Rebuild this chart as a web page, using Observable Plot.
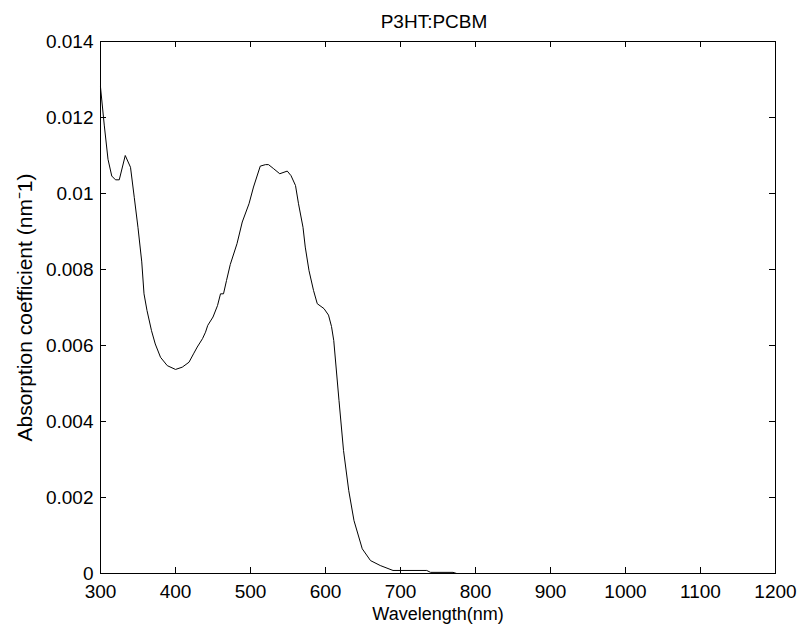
<!DOCTYPE html>
<html><head><meta charset="utf-8">
<script src="https://cdn.jsdelivr.net/npm/d3@7"></script>
<script src="https://cdn.jsdelivr.net/npm/@observablehq/plot@0.6"></script>
<style>body{margin:0;background:#fff}</style>
</head><body><div id="chart"></div>
<script>
const wavelength = [300,305,310,315,320,325,333,340,345,350,355,358,362,368,373,380,389,400,409,418,424,429,436,440,443,450,456,460,464,468,473,482,489,498,504,513,520,524,531,539,549,554,560,564,570,573,578,584,589,598,604,608,611,618,624,631,638,649,660,673,690,700,735,740,770,775,1200];
const absorption = [0.0128,0.0118,0.0109,0.01046,0.01036,0.01036,0.0110,0.01069,0.0099,0.0091,0.0082,0.00736,0.00692,0.00639,0.00604,0.00569,0.00547,0.00537,0.00543,0.00556,0.00578,0.00596,0.00618,0.00635,0.00653,0.00675,0.00705,0.00736,0.00736,0.00771,0.00813,0.00868,0.00925,0.00973,0.01017,0.01072,0.01076,0.01076,0.01065,0.01052,0.01059,0.01047,0.01021,0.00973,0.00911,0.00859,0.00797,0.00745,0.0071,0.00697,0.0068,0.0065,0.00613,0.00455,0.00324,0.00218,0.00139,0.00065,0.00034,0.00021,0.00008,0.00008,0.00008,0.00003,0.00003,0,0];
const xTicks = [300,400,500,600,700,800,900,1000,1100,1200];
const yTicks = [0,0.002,0.004,0.006,0.008,0.01,0.012,0.014];
const yTickLabels = ["0","0.002","0.004","0.006","0.008","0.01","0.012","0.014"];
const titleText = "P3HT:PCBM";
const xLabel = "Wavelength(nm)";
const yLabel = "Absorption coefficient (nm\u207B1)";

const data = wavelength.map((w, i) => ({w, a: absorption[i]}));
const W = 800, H = 633, mL = 100, mR = 25, mT = 41, mB = 60;
const pw = W - mL - mR, ph = H - mT - mB, tk = 6;
const fs = 19;

const chart = Plot.plot({
  width: W, height: H,
  marginLeft: mL, marginRight: mR, marginTop: mT, marginBottom: mB,
  style: {fontFamily: "'Liberation Sans', Arial, sans-serif", fontSize: fs + "px", background: "#fff", color: "#000"},
  x: {domain: [300, 1200]},
  y: {domain: [0, 0.014]},
  marks: [
    Plot.line(data, {x: "w", y: "a", stroke: "#000", strokeWidth: 1}),
    Plot.frame({stroke: "#000", strokeWidth: 1}),
    Plot.tickX(xTicks, {x: d => d, stroke: "#000", insetTop: ph - tk}),
    Plot.tickX(xTicks, {x: d => d, stroke: "#000", insetBottom: ph - tk}),
    Plot.tickY(yTicks, {y: d => d, stroke: "#000", insetRight: pw - tk}),
    Plot.tickY(yTicks, {y: d => d, stroke: "#000", insetLeft: pw - tk}),
    Plot.axisX(xTicks, {anchor: "bottom", tickSize: 0, tickPadding: 11, label: null, fontSize: fs,
      tickFormat: d => String(d)}),
    Plot.axisY(yTicks, {anchor: "left", tickSize: 0, tickPadding: 7, label: null, fontSize: fs,
      tickFormat: d => yTickLabels[yTicks.indexOf(d)]}),
    Plot.text([titleText], {frameAnchor: "top", dx: -4, dy: -20, lineAnchor: "middle", textAnchor: "middle", fontSize: fs}),
    Plot.text([xLabel], {frameAnchor: "bottom", dy: 41, lineAnchor: "middle", textAnchor: "middle", fontSize: 18}),
    Plot.text([yLabel], {frameAnchor: "left", dx: -75, rotate: -90, lineAnchor: "middle", textAnchor: "middle", fontSize: 21})
  ]
});
document.getElementById("chart").appendChild(chart);
</script>
</body></html>
